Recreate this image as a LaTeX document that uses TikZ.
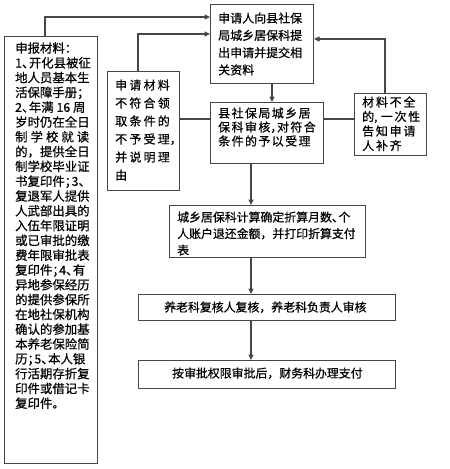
\documentclass[tikz,border=0pt]{standalone}
\usepackage{fontspec}
\newfontfamily\cjk[FakeBold=0.6]{Noto Sans CJK SC}
\usetikzlibrary{arrows.meta}
\newdimen\cjksp
\cjksp=0pt
\newcommand{\setsp}[1]{\global\cjksp=#1\relax}
\newXeTeXintercharclass\cjkclass
\newcount\cjkcnt
\cjkcnt="4E00
\loop
  \XeTeXcharclass\cjkcnt=\cjkclass
  \advance\cjkcnt by 1
\ifnum\cjkcnt<"A000 \repeat
\XeTeXinterchartokenstate=1
\XeTeXinterchartoks \cjkclass \cjkclass = {\hskip\cjksp\relax}
\newcommand{\hcp}[1]{\makebox[0.55em][l]{#1}}
\definecolor{edge}{RGB}{70,70,70}
\tikzset{
  box/.style={draw=edge, line width=1.1pt, rectangle, inner sep=0pt, anchor=north west},
  txt/.style={inner sep=0pt, anchor=base west, align=left, text=black},
  link/.style={draw=edge, line width=1.1pt},
  arr/.style={link, -{Triangle[length=5.5pt,width=5pt]}}
}
\begin{document}
\begin{tikzpicture}[x=1pt,y=-1pt]
\useasboundingbox (0,0) rectangle (450,469);
% boxes
\node[box, minimum width=93pt, minimum height=427pt] (L) at (4,36) {};
\node[box, minimum width=103pt, minimum height=79pt] (A) at (210,4) {};
\node[box, minimum width=72pt, minimum height=119pt] (R) at (107,71) {};
\node[box, minimum width=113pt, minimum height=61pt] (B) at (210,102) {};
\node[box, minimum width=72pt, minimum height=62pt] (M) at (354,93) {};
\node[box, minimum width=196pt, minimum height=52pt] (C) at (169,205) {};
\node[box, minimum width=257pt, minimum height=26pt] (D) at (138,294) {};
\node[box, minimum width=257pt, minimum height=28pt] (E) at (138,360) {};
% texts (anchored at the baseline of their last line)
\node[txt, font={\cjk\fontsize{12.4}{14.8}\selectfont\setsp{0pt}}] (Lt) at (15,407.9)
 {申报材料：\\1\hcp{、}开化县被征\\地人员基本生\\活保障手册；\\2\hcp{、}年满 16 周\\岁时仍在全日\\\makebox[74pt][s]{制\hfill 学\hfill 校\hfill 就\hfill 读}\\的，提供全日\\制学校毕业证\\书复印件\hcp{；}3、\\复退军人提供\\人武部出具的\\入伍年限证明\\或已审批的缴\\费年限审批表\\复印件\hcp{；}4\hcp{、}有\\异地参保经历\\的提供参保所\\在地社保机构\\确认的参加基\\本养老保险简\\历\hcp{；}5\hcp{、}本人银\\行活期存折复\\印件或借记卡\\复印件。};
\node[txt, font={\cjk\fontsize{12}{17.3}\selectfont\setsp{0pt}}] (At) at (218,74.5)
 {申请人向县社保\\局城乡居保科提\\出申请并提交相\\关资料};
\node[txt, font={\cjk\fontsize{12}{18}\selectfont\setsp{2.2pt}}] (Rt) at (115,179.6)
 {申请材料\\不符合领\\取条件的\\不予受理，\\并说明理\\由};
\node[txt, font={\cjk\fontsize{12}{14}\selectfont\setsp{1.4pt}}] (Bt) at (218,145.6)
 {县社保局城乡居\\保科审核\hcp{，}对符合\\条件的予以受理};
\node[txt, font={\cjk\fontsize{12}{14.5}\selectfont\setsp{1.75pt}}] (Mt) at (362,150.1)
 {材料不全\\的\hcp{,}一次性\\告知申请\\人补齐};
\node[txt, font={\cjk\fontsize{11.9}{16.5}\selectfont\setsp{0pt}}] (Ct) at (177,254.6)
 {城乡居保科计算确定折算月数\hcp{、}个\\人账户退还金额，并打印折算支付\\表};
\node[txt, font={\cjk\fontsize{11.9}{14}\selectfont\setsp{0pt}}] (Dt) at (164,311.6)
 {养老科复核人复核，养老科负责人审核};
\node[txt, font={\cjk\fontsize{11.9}{14}\selectfont\setsp{0pt}}] (Et) at (172,377.6)
 {按审批权限审批后，财务科办理支付};
% connector helpers
\coordinate (l1) at (45,17);
\coordinate (r1) at (138,34);
\coordinate (m1) at (385,39);
\coordinate (ab) at (272,0);
\coordinate (by) at (0,119);
\coordinate (bc) at (251,0);
% connectors
\draw[arr] (l1 |- L.north) -- (l1) -- (l1 -| A.west);
\draw[arr] (r1 |- R.north) -- (r1) -- (r1 -| A.west);
\draw[arr] (m1 |- M.north) -- (m1) -- (m1 -| A.east);
\draw[arr] (ab |- A.south) -- (ab |- B.north);
\draw[link] (by -| B.west) -- (by -| R.east);
\draw[link] (by -| B.east) -- (by -| M.west);
\draw[arr] (bc |- B.south) -- (bc |- C.north);
\draw[arr] (bc |- C.south) -- (bc |- D.north);
\draw[arr] (bc |- D.south) -- (bc |- E.north);
\end{tikzpicture}
\end{document}
